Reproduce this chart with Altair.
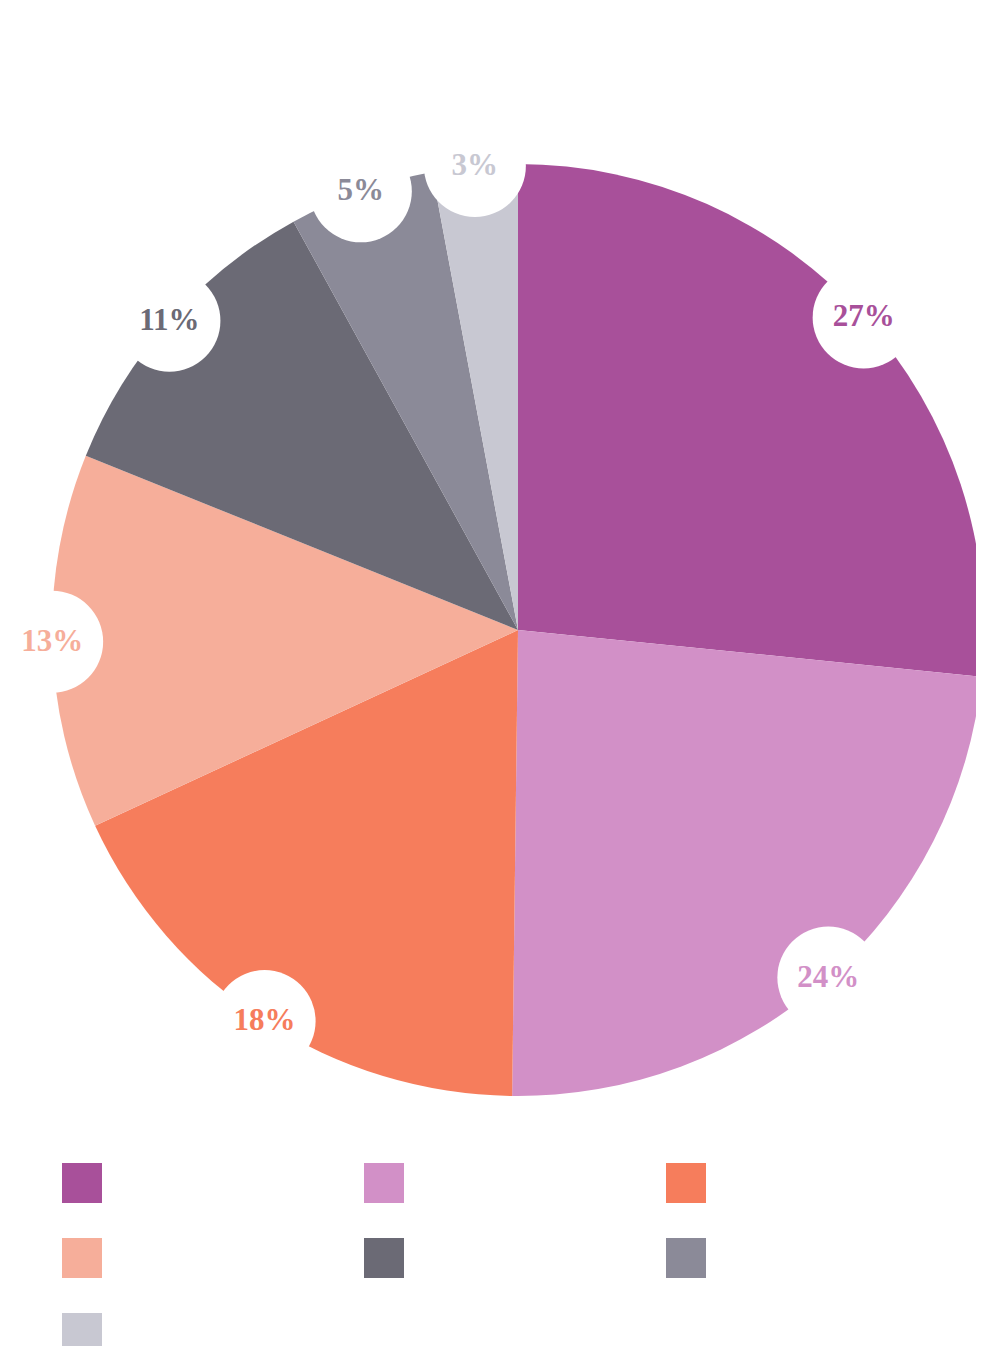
import altair as alt
import pandas as pd

categories = ["Segment 1", "Segment 2", "Segment 3", "Segment 4", "Segment 5", "Segment 6", "Segment 7"]
values = [26.6, 23.6, 17.9, 13.0, 10.9, 5.05, 2.95]
labels = ["27%", "24%", "18%", "13%", "11%", "5%", "3%"]
colors = ["#A8509A", "#D290C7", "#F67D5C", "#F6AE9A", "#6B6A75", "#8B8A98", "#C8C8D2"]

W, H = 968, 1338
CX, CY, R, LR = 510, 622, 466, 466

df = pd.DataFrame({"cat": categories, "value": values, "label": labels, "order": list(range(len(values)))})

color_scale = alt.Scale(domain=categories, range=colors)

base = alt.Chart(df)

pie = base.mark_arc(radius=R, strokeWidth=0).encode(
    theta=alt.Theta("value:Q", stack=True),
    color=alt.Color(
        "cat:N",
        scale=color_scale,
        sort=categories,
        legend=alt.Legend(
            title=None,
            orient="none",
            direction="horizontal",
            legendX=54,
            legendY=1155,
            columns=3,
            symbolType="square",
            symbolSize=1600,
            symbolStrokeWidth=0,
            labelExpr="''",
            labelOffset=0,
            columnPadding=262,
            rowPadding=35,
        ),
    ),
    order=alt.Order("order:Q"),
    x=alt.value(CX),
    y=alt.value(CY),
)

pos = base.transform_window(
    cum="sum(value)", sort=[alt.SortField("order")], frame=[None, 0]
).transform_joinaggregate(
    total="sum(value)"
).transform_calculate(
    ang="(datum.cum - datum.value / 2) / datum.total * 2 * PI",
).transform_calculate(
    px=f"{CX} + {LR} * sin(datum.ang)",
    py=f"{CY} - {LR} * cos(datum.ang)",
)

xs = alt.X("px:Q", scale=alt.Scale(domain=[0, W], range=[0, W]), axis=None)
ys = alt.Y("py:Q", scale=alt.Scale(domain=[0, H], range=[0, H]), axis=None)

circles = pos.mark_circle(size=10404, color="white", opacity=1).encode(x=xs, y=ys)

texts = pos.mark_text(
    font="Liberation Serif", fontSize=31, fontWeight="bold", baseline="middle", align="center"
).encode(
    x=xs,
    y=ys,
    text="label:N",
    color=alt.Color("cat:N", scale=color_scale, legend=None),
)

chart = alt.layer(pie, circles, texts).properties(
    width=W, height=H, padding=0, autosize=alt.AutoSizeParams(type="none")
).configure_view(stroke=None)

chart.save("out.html", embed_options={"renderer": "svg", "actions": False})
